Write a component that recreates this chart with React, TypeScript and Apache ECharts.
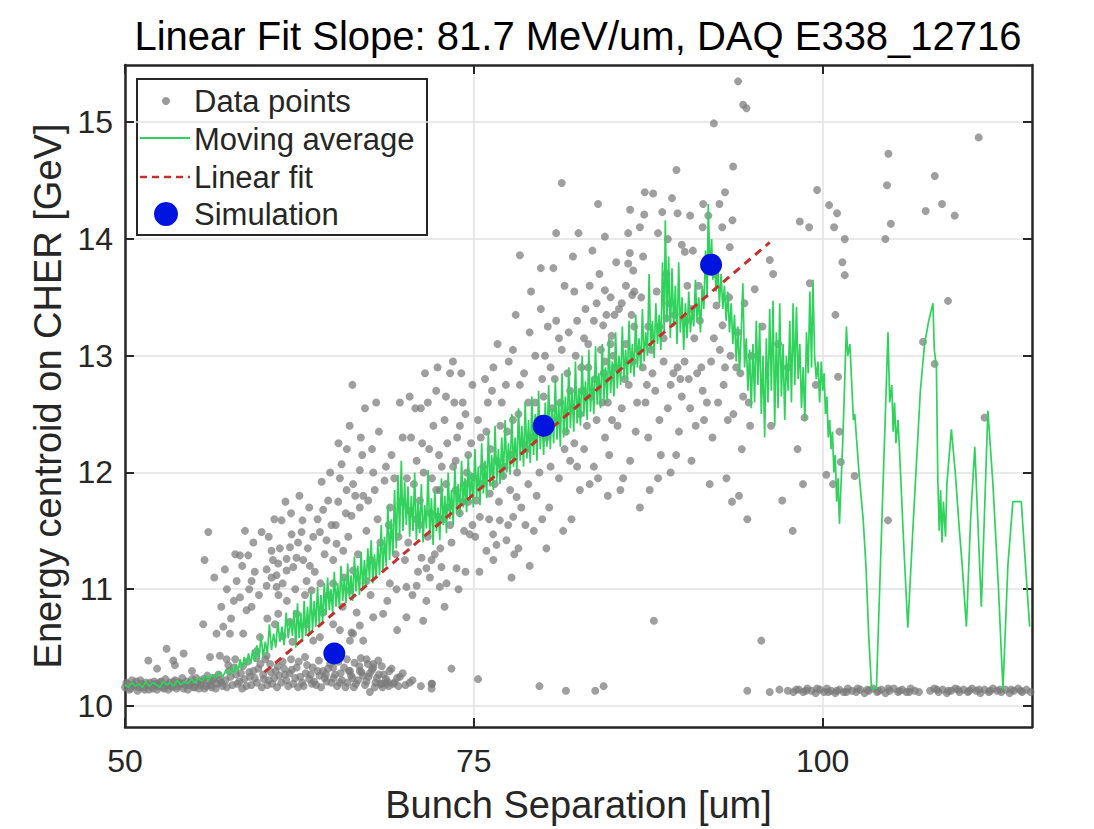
import React, { useEffect, useRef } from "react";
import * as echarts from "echarts";

const TITLE = "Linear Fit Slope: 81.7 MeV/um, DAQ E338_12716";
const X_NAME = "Bunch Separation [um]";
const Y_NAME = "Energy centroid on CHER [GeV]";
const X_TICKS = [50, 75, 100];
const Y_TICKS = [10, 11, 12, 13, 14, 15];
const LEGEND_LABELS = ["Data points", "Moving average", "Linear fit", "Simulation"];

// Gray data points
const floorLeft = [
  [50.0,10.16],[50.2,10.19],[50.4,10.15],[50.6,10.18],[50.8,10.21],[51.0,10.16],[51.2,10.19],[51.4,10.14],[51.6,10.18],[51.8,10.2],[52.0,10.15],[52.2,10.19],[52.4,10.17],[52.6,10.21],[52.8,10.15],[53.0,10.18],[53.2,10.2],[53.4,10.16],[53.6,10.22],[53.8,10.17],[54.0,10.19],[54.2,10.15],[54.4,10.21],[54.6,10.18],[54.8,10.23],[55.0,10.16],[55.2,10.2],[55.4,10.18],[55.6,10.23],[55.8,10.17],[56.0,10.21],[56.2,10.16],[56.4,10.24],[56.6,10.19],[56.8,10.22],[57.0,10.17],
  [50.1,10.2],[50.3,10.14],[50.5,10.22],[50.7,10.17],[50.9,10.13],[51.1,10.22],[51.3,10.16],[51.5,10.2],[51.7,10.14],[51.9,10.17],[52.1,10.21],[52.3,10.14],[52.5,10.2],[52.7,10.16],[52.9,10.23],[53.1,10.14],[53.3,10.17],[53.5,10.21],[53.7,10.15],[53.9,10.2],[54.1,10.24],[54.3,10.18],[54.5,10.14],[54.7,10.2],[54.9,10.16],[55.1,10.24],[55.3,10.15],[55.5,10.21],[55.7,10.15],[55.9,10.26],[56.1,10.18],[56.3,10.22],[56.5,10.15],[56.7,10.27],[56.9,10.2],
  [57.2,10.22],[57.45,10.3],[57.7,10.18],[57.95,10.27],[58.2,10.21],[58.45,10.34],[58.7,10.17],[58.95,10.25],[59.2,10.3],[59.45,10.2],[59.7,10.36],[59.95,10.23],[60.2,10.18],[60.45,10.29],[60.7,10.24],[60.95,10.34],[61.2,10.2],[61.45,10.27],[61.7,10.17],[61.95,10.31],[62.2,10.24],[62.45,10.38],[62.7,10.2],[62.95,10.28],[63.2,10.23],[63.45,10.33],[63.7,10.18],[63.95,10.26],[64.2,10.3],[64.45,10.21],[64.7,10.36],[64.95,10.24],[65.2,10.17],[65.45,10.28],[65.7,10.33],[65.95,10.2],[66.2,10.26],[66.45,10.37],[66.7,10.22],[66.95,10.29],[67.2,10.18],[67.45,10.25],[67.7,10.31],[67.95,10.2],[68.2,10.27],[68.45,10.16],[68.7,10.23],[68.95,10.3],[69.3,10.2],[69.7,10.25],[70.1,10.18],[70.6,10.22],[71.2,10.17],
  [57.3,10.16],[57.55,10.25],[57.8,10.33],[58.05,10.19],[58.3,10.28],[58.55,10.23],[58.8,10.38],[59.05,10.18],[59.3,10.24],[59.55,10.32],[59.8,10.16],[60.05,10.4],[60.3,10.22],[60.55,10.19],[60.8,10.3],[61.05,10.26],[61.3,10.38],[61.55,10.22],[61.8,10.28],[62.05,10.19],[62.3,10.33],[62.55,10.25],[62.8,10.17],[63.05,10.35],[63.3,10.27],[63.55,10.21],[63.8,10.3],[64.05,10.16],[64.3,10.24],[64.55,10.32],[64.8,10.2],[65.05,10.27],[65.3,10.38],[65.55,10.22],[65.8,10.16],[66.05,10.3],[66.3,10.24],[66.55,10.19],[66.8,10.34],[67.05,10.26],[67.3,10.21],[67.55,10.28],[67.8,10.36],[68.05,10.24],[68.3,10.19],[68.55,10.27],[68.8,10.21],[69.1,10.32],[69.5,10.24],[69.9,10.28],[70.4,10.2],
  [57.4,10.35],[57.9,10.4],[58.4,10.15],[58.9,10.29],[59.4,10.41],[59.9,10.27],[60.4,10.36],[60.9,10.16],[61.4,10.32],[61.9,10.4],[62.4,10.16],[62.9,10.42],[63.4,10.19],[63.9,10.39],[64.4,10.27],[64.9,10.42],[65.4,10.2],[65.9,10.4],[66.4,10.16],[66.9,10.41],[67.4,10.36],[67.9,10.16],[68.4,10.34],[68.9,10.17],[69.6,10.17]
];

const cloudLow = [
  [51.67,10.39],[52.98,10.49],[53.46,10.39],[53.58,10.35],[52.3,10.32],[54.2,10.45],[54.8,10.3],[55.61,10.7],[55.97,11.49],[55.7,11.25],
  [56.09,10.42],[56.8,10.43],[57.28,10.4],[57.04,10.68],[57.52,10.62],[56.56,10.62],[58.47,10.62],[59.67,10.59],[59.43,10.47],[60.15,10.43],[58.24,10.93],[58.71,10.82],[59.07,10.85],[57.16,11.17],[58.0,11.07],[59.07,11.07],[58.24,11.29],[58.83,11.29],[59.79,11.49],[58.4,11.2],[59.3,11.15],[59.6,10.95],[58.9,11.0],[57.8,10.9],[56.9,10.85],[57.6,10.75],
  [60.5,11.33],[61.1,11.35],[61.82,11.36],[60.6,11.25],[60.98,11.22],[61.58,11.26],[62.29,11.27],[62.77,11.25],[63.25,11.2],[60.15,11.17],[60.86,11.12],[61.58,11.16],[62.06,11.19],[60.5,11.1],[60.15,11.03],[60.86,11.02],[63.01,11.07],[63.37,10.99],[61.22,11.59],[62.72,11.59],[61.94,11.47],[62.65,11.49],[63.49,11.45],[63.97,11.49],[64.44,11.42],[64.09,11.92],[64.56,11.76],[64.2,11.68],[61.82,10.72],[62.29,10.79],[60.98,10.79],[60.74,10.7],[63.49,10.56],[63.97,10.59],[64.92,10.7],[62.5,11.8],[63.2,11.7],[61.5,11.75],
  [65.52,12.07],[65.88,11.85],[67.07,11.8],[67.43,11.76],[66.83,11.7],[65.28,11.75],[65.83,11.65],[66.23,11.63],[65.16,11.39],[65.64,11.33],[64.92,11.25],[66.35,11.16],[67.31,11.07],[64.92,11.05],[66.12,10.99],[68.98,11.05],[69.46,11.0],[66.83,12.02],[67.79,12.0],[66.35,11.9],[67.79,10.76],[68.5,10.79],[66.83,10.69],[66.35,10.62],[66.12,10.56],[67.07,10.56],[65.4,10.65],[66.23,10.63],[67.31,10.4],[68.15,10.39],[67.79,10.33],[66.83,10.3],[66.12,10.3],[64.92,10.33],[68.39,10.19],[68.74,10.19],[69.22,10.19],[67.55,10.12],
  [66.1,12.4],[66.3,12.75],[67.7,12.2],[68.6,11.93],[64.7,12.0],[69.7,12.6],[68.2,12.35],[69.1,12.15],[65.3,12.25],[67.2,12.55],[68.9,11.55],[69.4,11.3],[68.1,11.6],[69.8,11.75],
  [60.3,11.45],[60.7,11.6],[61.0,10.95],[61.3,11.05],[61.6,10.9],[61.9,11.65],[62.2,11.0],[62.4,11.4],[62.9,10.95],[63.1,11.35],[63.6,11.15],[63.8,11.6],[64.0,11.05],[64.3,11.3],[64.6,10.95],[64.8,11.55],[60.2,10.75],[61.3,10.6],[62.0,10.55],[63.0,10.7],[64.2,10.8],[59.2,11.4],[58.6,11.5],[57.9,11.3],[57.3,11.0],[56.4,11.1],
  [65.1,11.55],[65.4,11.95],[65.7,11.1],[66.0,11.45],[66.5,11.8],[66.7,11.3],[67.0,12.15],[67.3,11.5],[67.6,11.25],[67.9,11.85],[68.3,11.4],[68.7,12.05],[69.0,11.7],[69.3,11.95],[69.6,11.45],[69.9,12.3],[65.6,10.85],[66.6,10.8],[67.6,10.95],[68.8,10.9],[69.5,10.65],[68.0,12.6],[66.9,12.3],[65.9,12.2]
];

const cloudMid = [
  [70.17,11.02],[70.9,11.03],[71.0,11.15],[71.6,11.18],[71.85,11.1],[72.56,11.02],[73.04,11.05],[72.68,11.19],[70.06,11.25],[71.25,11.27],[71.97,11.25],[73.76,11.18],[74.71,11.47],[74.47,11.9],[74.95,11.96],[73.52,12.05],[72.56,11.85],[73.16,11.7],[72.44,11.62],[73.99,11.65],[70.41,11.67],[71.13,11.76],[70.17,10.76],[71.37,10.73],[71.97,10.19],[71.97,10.15],[73.4,10.32],[72.0,10.19],[75.3,10.23],
  [70.5,12.3],[71.2,12.55],[71.8,12.2],[72.3,12.7],[72.9,12.45],[73.3,12.85],[73.8,12.3],[74.2,12.6],[74.6,12.15],[70.9,12.1],[72.1,12.4],[73.6,12.6],[74.9,12.75],[71.5,12.85],[72.7,12.05],
  [70.3,11.4],[70.7,11.9],[71.1,11.55],[71.4,12.0],[71.7,11.45],[72.0,11.95],[72.2,11.3],[72.5,12.15],[72.8,11.6],[73.1,12.25],[73.4,11.4],[73.7,11.85],[74.0,12.4],[74.3,11.5],[74.6,11.75],[74.8,12.25],[70.6,10.95],[71.6,10.9],[72.9,10.85],[73.9,11.0],[74.4,11.15],[70.8,12.55],[72.4,12.9],[73.5,12.95],[74.1,12.85],
  [70.2,11.95],[70.9,11.6],[71.3,12.25],[71.9,11.65],[72.3,11.85],[72.6,11.35],[73.0,11.9],[73.3,11.55],[73.7,12.1],[74.2,11.75],[74.5,12.0],[74.9,11.55],[70.4,12.65],[71.7,12.6],[73.0,12.65],[74.4,12.5],
  [75.9,11.33],[76.62,11.38],[77.34,11.42],[76.38,11.47],[76.86,11.59],[77.46,11.55],[77.82,11.62],[78.06,11.79],[76.14,11.82],[76.5,11.9],[77.1,11.97],[75.43,11.62],[75.19,11.76],[75.67,12.05],[77.7,12.15],
  [75.5,12.3],[76.0,12.6],[76.4,12.9],[76.9,12.4],[77.3,12.75],[77.8,13.05],[78.2,12.5],[78.6,12.85],[79.0,13.2],[79.4,12.6],[79.8,13.4],[78.9,11.9],[79.3,11.5],[79.7,12.0],[78.4,11.7],[76.2,12.2],[77.5,12.95],[78.0,13.35],[79.1,13.55],[75.8,12.8],[76.7,13.1],[78.8,12.2],[79.5,11.8],[77.9,11.3],[79.9,11.6],[78.3,13.86],[79.8,13.75],[79.7,10.17],
  [75.1,11.45],[75.3,12.45],[75.6,11.9],[75.9,12.35],[76.1,11.6],[76.3,12.7],[76.6,12.1],[76.8,11.75],[77.0,12.6],[77.2,12.05],[77.4,12.35],[77.6,11.85],[77.8,12.45],[78.1,12.0],[78.3,12.75],[78.5,12.25],[78.7,11.55],[78.9,12.6],[79.2,12.3],[79.4,13.0],[79.6,12.45],[79.9,12.8],[75.4,11.15],[76.4,11.25],[77.7,11.1],[78.2,11.35],[79.0,11.2],
  [80.2,12.3],[80.5,12.9],[80.9,13.3],[81.2,12.6],[81.5,13.6],[81.9,12.1],[82.3,13.0],[82.6,12.5],[83.0,13.4],[83.3,11.9],[83.7,12.8],[84.0,13.7],[84.4,12.3],[84.8,13.1],[80.4,11.7],[81.1,11.95],[82.0,11.6],[82.9,12.2],[83.5,13.9],[84.2,12.6],[84.6,11.8],[80.7,13.75],[81.3,14.48],[82.5,14.05],[83.9,14.3],[80.1,13.0],[81.8,13.2],[82.8,12.7],[83.2,13.1],[84.9,12.45],[80.6,12.55],[81.6,12.35],[82.2,13.55],[83.6,12.05],[84.5,13.35],[81.6,10.13],[83.7,10.13],[84.3,10.17],
  [80.0,12.65],[80.3,13.25],[80.5,12.05],[80.8,12.8],[81.0,12.45],[81.3,13.05],[81.5,12.2],[81.7,12.85],[82.0,12.55],[82.2,12.25],[82.4,13.3],[82.7,12.9],[82.9,13.15],[83.1,12.4],[83.4,12.65],[83.6,13.3],[83.8,12.45],[84.1,13.05],[84.3,12.85],[84.6,12.6],[84.8,13.5],[80.2,11.35],[81.4,11.5],[82.6,11.85],[83.9,11.95],[84.7,12.15],[82.1,13.85],[83.3,13.6],[80.9,14.05],
  [80.4,12.45],[81.1,13.15],[81.9,12.7],[82.4,12.05],[83.2,12.9],[83.8,13.45],[84.4,12.95]
];

const cloudHigh = [
  [86.06,14.05],[84.39,14.02],[86.18,13.88],[87.13,13.85],[86.06,13.79],[86.42,13.73],[84.39,13.56],[86.35,13.52],[85.08,13.35],[86.49,13.25],[84.27,13.26],[84.87,13.17],[87.25,14.4],[87.85,14.39],[87.21,14.21],[88.5,14.23],[89.6,14.22],[89.52,14.59],[88.8,13.32],[90.12,13.89],
  [85.3,12.4],[85.8,12.8],[86.2,12.1],[86.7,12.6],[87.1,12.9],[87.5,12.3],[88.0,12.7],[88.4,12.15],[88.9,12.55],[89.3,12.85],[89.7,12.35],[85.5,11.85],[86.9,11.7],[88.2,11.95],[89.1,12.0],[87.9,10.73],[85.9,13.1],[87.7,13.05],[88.6,12.95],[89.9,12.65],[86.4,12.95],
  [85.1,12.9],[85.4,13.4],[85.6,12.55],[85.9,13.6],[86.1,12.75],[86.3,13.35],[86.6,12.35],[86.8,13.05],[87.0,13.5],[87.3,12.6],[87.5,13.25],[87.8,12.85],[88.1,13.55],[88.3,12.45],[88.6,13.15],[88.8,13.7],[89.1,12.75],[89.4,13.35],[89.6,12.9],[89.9,13.95],[85.2,13.8],[86.9,14.1],[88.2,14.05],[89.2,14.35],[85.7,11.95],[87.6,11.85],[89.5,12.15],
  [85.0,13.0],[85.6,13.45],[86.5,13.55],[87.4,12.75],[88.3,13.25],[89.0,13.45],[89.8,12.8],[86.2,14.25],[88.9,14.0],
  [93.94,15.35],[94.3,15.15],[94.54,15.12],[92.2,14.99],[93.58,14.62],[91.43,14.3],[93.53,14.16],[93.34,13.93],[95.13,13.57],[92.39,13.43],[92.82,13.26],[95.68,13.25],[92.63,13.05],
  [90.4,12.8],[90.9,12.4],[91.3,12.9],[91.7,12.6],[92.1,12.3],[92.9,12.75],[93.2,12.45],[93.8,12.9],[94.2,12.2],[94.7,12.6],[90.6,12.1],[91.9,11.9],[93.5,11.75],[94.6,11.6],[95.6,10.56],[90.2,13.3],[91.1,13.6],[94.9,13.0],[90.8,13.15],
  [90.1,12.95],[90.3,13.6],[90.5,12.55],[90.7,13.9],[91.0,12.85],[91.2,13.3],[91.5,12.45],[91.7,13.75],[92.0,12.95],[92.3,13.7],[92.5,12.6],[92.8,14.1],[93.0,12.9],[93.3,13.5],[93.6,12.5],[93.9,13.2],[94.1,12.85],[94.4,13.45],[94.8,12.4],[91.4,14.1],[92.6,14.3],[90.5,14.2],[93.1,11.95],[94.0,11.8],
  [90.6,13.4],[91.4,12.7],[92.2,13.15],[93.4,13.0],[94.3,12.65],[91.8,14.2],[93.0,14.4],
  [96.21,13.82],[96.45,13.7],[98.36,14.15],[99.03,14.1],[99.6,14.42],[99.07,13.62],[98.7,12.47],[98.59,11.9],[97.1,11.76],[97.85,11.5],[96.3,12.4],[97.5,12.9],[98.2,12.2],[99.5,12.75],[96.8,13.1]
];

const rightSparse = [
  [100.46,14.29],[101.03,14.22],[100.82,14.1],[101.58,14.0],[101.41,13.8],[101.58,13.69],[100.91,13.35],[104.71,14.73],[104.61,14.46],[104.88,14.13],[104.49,14.0],[108.03,14.54],[107.38,14.24],[108.55,14.3],[109.46,14.2],[111.18,14.87],[108.98,13.47],[107.19,13.12],[101.1,12.82],[101.2,12.35],[101.3,12.09],[100.26,11.98],[100.74,11.9],[102.29,11.97],[104.68,11.59],[108.02,12.93],[111.6,12.47]
];

const floorRight = [
  [94.6,10.13],[96.2,10.12],[96.9,10.14],[97.5,10.13],
  [97.9,10.12],[98.3,10.14],[98.6,10.12],[98.9,10.15],[99.2,10.13],[99.5,10.11],[99.8,10.14],[100.1,10.12],[100.3,10.15],[100.6,10.13],[100.9,10.11],[101.2,10.14],[101.5,10.12],[101.8,10.15],[102.1,10.13],[102.4,10.12],[102.7,10.14],[103.0,10.11],[103.3,10.13],[103.6,10.15],[103.9,10.12],[104.2,10.14],[104.5,10.11],[104.8,10.13],[105.1,10.15],[105.4,10.12],[105.7,10.14],[106.0,10.12],[106.3,10.15],[106.6,10.13],[106.9,10.12],[107.7,10.13],[108.0,10.15],[108.3,10.12],[108.6,10.14],[108.9,10.11],[109.2,10.13],[109.5,10.15],[109.8,10.12],[110.1,10.14],[110.4,10.12],[110.7,10.15],[111.0,10.13],[111.3,10.11],[111.6,10.14],[111.9,10.12],[112.2,10.15],[112.5,10.13],[112.8,10.12],[113.1,10.14],[113.4,10.11],[113.7,10.13],[114.0,10.15],[114.3,10.12],[114.6,10.14],[114.9,10.12],
  [98.1,10.14],[98.8,10.13],[99.6,10.15],[100.4,10.12],[101.0,10.13],[101.7,10.12],[102.5,10.15],[103.2,10.14],[104.0,10.13],[104.7,10.15],[105.5,10.13],[106.2,10.12],[108.2,10.14],[109.0,10.13],[109.7,10.14],[110.5,10.13],[111.2,10.14],[112.0,10.13],[112.7,10.14],[113.5,10.14],[114.2,10.13]
];

// Moving average (green)
const movAvgA = [
  [50.0,10.18],[50.25,10.16],[50.5,10.2],[50.75,10.17],[51.0,10.19],[51.25,10.16],[51.5,10.21],[51.75,10.17],[52.0,10.2],[52.25,10.18],[52.5,10.16],[52.75,10.21],[53.0,10.18],[53.25,10.2],[53.5,10.17],[53.75,10.22],[54.0,10.18],[54.25,10.21],[54.5,10.19],[54.75,10.23],[55.0,10.2],[55.25,10.24],[55.5,10.21],[55.75,10.26],[56.0,10.22],[56.25,10.27],[56.5,10.24],[56.75,10.29],[57.0,10.25],[57.25,10.31],[57.5,10.27],[57.65,10.33],[57.8,10.28],[57.95,10.36],[58.1,10.3],[58.25,10.4],[58.4,10.32],[58.55,10.42],[58.7,10.35],[58.85,10.45],[59.0,10.36],[59.15,10.48],[59.3,10.38],[59.45,10.52],[59.6,10.4],[59.75,10.6],[59.9,10.42],[60.05,10.55],[60.2,10.45],[60.35,10.7],[60.5,10.48],[60.65,10.62],[60.8,10.5],[60.95,10.72],[61.1,10.55],[61.25,10.68],[61.4,10.52],[61.55,10.8],[61.7,10.58],[61.85,10.75],[62.0,10.6]
];
const movAvgB = [
  [62.12,10.82],[62.24,10.5],[62.36,10.88],[62.48,10.58],[62.6,10.8],[62.72,10.55],[62.84,10.9],[62.96,10.6],[63.08,10.85],[63.2,10.62],[63.32,10.98],[63.44,10.65],[63.56,10.9],[63.68,10.68],[63.8,11.02],[63.92,10.7],[64.04,10.95],[64.16,10.72],[64.28,11.05],[64.4,10.78],[64.52,11.1],[64.64,10.82],[64.76,11.0],[64.88,10.8],[65.0,11.15],[65.12,10.85],[65.24,11.05],[65.36,10.84],[65.48,11.2],[65.6,10.9],[65.72,11.1],[65.84,10.88],[65.96,11.22],[66.08,10.92],[66.2,11.12],[66.32,10.9],[66.44,11.28],[66.56,10.98],[66.68,11.2],[66.8,10.95],[66.92,11.32],[67.04,11.0],[67.16,11.25],[67.28,11.02],[67.4,11.35],[67.52,11.08],[67.64,11.42],[67.76,11.05],[67.88,11.3],[68.0,11.1],[68.12,11.38],[68.24,11.12],[68.36,11.55],[68.48,11.15],[68.6,11.45],[68.72,11.2],[68.84,11.72],[68.96,11.25],[69.08,11.6],[69.2,11.3],[69.32,11.85],[69.44,11.35],[69.56,11.98],[69.68,11.45],[69.8,12.1],[69.92,11.5],[70.04,11.92],
  [70.16,11.55],[70.28,11.88],[70.4,11.45],[70.52,11.8],[70.64,11.5],[70.76,12.0],[70.88,11.42],[71.0,11.75],[71.12,11.48],[71.24,11.9],[71.36,11.4],[71.48,11.72],[71.6,11.52],[71.72,12.02],[71.84,11.45],[71.96,11.78],[72.08,11.38],[72.2,11.85],[72.32,11.5],[72.44,11.7],[72.56,11.42],[72.68,11.95],[72.8,11.55],[72.92,11.8],[73.04,11.48],[73.16,12.0],[73.28,11.6],[73.4,11.85],[73.52,11.55],[73.64,12.05],[73.76,11.65],[73.88,11.9],[74.0,11.62],[74.12,12.1],[74.24,11.7],[74.36,11.95],[74.48,11.66],[74.6,12.15],[74.72,11.75],[74.84,12.0],[74.96,11.7],[75.08,12.2],[75.2,11.78],[75.32,12.05],[75.44,11.72],[75.56,12.25],[75.68,11.82],[75.8,12.1],[75.92,11.78],[76.04,12.35],[76.16,11.88],[76.28,12.15],[76.4,11.85],[76.52,12.4],[76.64,11.92],[76.76,12.2],[76.88,11.9],[77.0,12.3],[77.12,11.95],[77.24,12.45],[77.36,12.0],[77.48,12.25],[77.6,11.98],[77.72,12.5],[77.84,12.05],[77.96,12.3]
];
const movAvgC = [
  [78.08,12.02],[78.2,12.55],[78.32,12.1],[78.44,12.4],[78.56,12.05],[78.68,12.6],[78.8,12.12],[78.92,12.45],[79.04,12.08],[79.16,12.65],[79.28,12.15],[79.4,12.5],[79.52,12.1],[79.64,12.7],[79.76,12.2],[79.88,12.48],[80.0,12.15],[80.12,12.6],[80.24,12.22],[80.36,12.75],[80.48,12.2],[80.6,12.55],[80.72,12.25],[80.84,12.8],[80.96,12.28],[81.08,12.6],[81.2,12.22],[81.32,12.85],[81.44,12.3],[81.56,12.65],[81.68,12.32],[81.8,12.9],[81.92,12.38],[82.04,12.7],[82.16,12.35],[82.28,12.95],[82.4,12.42],[82.52,12.72],[82.64,12.4],[82.76,13.0],[82.88,12.48],[83.0,12.78],[83.12,12.45],[83.24,13.05],[83.36,12.52],[83.48,12.82],[83.6,12.5],[83.72,13.08],[83.84,12.58],[83.96,12.85],[84.08,12.55],[84.2,13.1],[84.32,12.62],[84.44,12.9],[84.56,12.6],[84.68,13.15],[84.8,12.68],[84.92,12.95],[85.04,12.65],[85.16,13.2],[85.28,12.72],[85.4,13.0],[85.52,12.75],[85.64,13.25],[85.76,12.8],[85.88,13.05],
  [86.0,12.78],[86.12,13.3],[86.24,12.85],[86.36,13.1],[86.48,12.82],[86.6,13.35],[86.72,12.9],[86.84,13.15],[86.96,12.88],[87.08,13.4],[87.2,12.95],[87.32,13.2],[87.44,13.0],[87.56,13.7],[87.68,13.05],[87.8,13.3],[87.92,12.98],[88.04,13.45],[88.16,13.1],[88.28,13.35],[88.4,13.05],[88.52,13.8],[88.64,13.2],[88.72,14.16],[88.84,13.3],[88.96,13.85],[89.08,13.15],[89.2,13.75],[89.32,13.25],[89.44,13.6],[89.56,13.1],[89.68,13.8],[89.8,13.2],[89.92,13.5],[90.04,13.05],[90.16,13.45],[90.28,13.15],[90.4,13.55],[90.52,13.2],[90.64,13.4],[90.76,13.25],[90.88,13.65],[91.0,13.3],[91.12,13.5],[91.24,13.2],[91.36,13.6],[91.48,13.4],[91.6,13.9],[91.72,13.5],[91.8,14.3],[91.92,13.7],[92.04,14.0]
];
const movAvgD = [
  [92.12,13.65],[92.24,13.85],[92.36,13.55],[92.48,13.75],[92.6,13.45],[92.72,13.7],[92.84,13.4],[92.96,13.6],[93.08,13.3],[93.2,13.55],[93.32,13.2],[93.44,13.45],[93.56,13.1],[93.68,13.35],[93.8,12.95],[93.92,13.25],[94.04,12.85],[94.16,13.2],[94.28,13.62],[94.4,12.9],[94.52,13.15],[94.64,12.7],[94.76,13.05],[94.88,12.55],[95.0,13.1],[95.12,12.6],[95.24,13.3],[95.36,12.75],[95.48,13.28],[95.6,12.5],[95.72,13.0],[95.84,12.3],[95.96,13.15],[96.08,12.6],[96.2,13.4],[96.32,12.7],[96.44,13.47],[96.56,12.4],[96.68,13.2],[96.8,12.55],[96.92,13.45],[97.04,12.65],[97.16,13.1],[97.28,12.45],[97.4,13.0],[97.52,12.7],[97.64,13.3],[97.76,12.6],[97.88,13.45],[98.0,12.75],[98.12,13.42],[98.24,12.8],[98.36,13.1],[98.48,12.55],[98.6,12.9],[98.72,12.45],[98.84,13.2],[98.96,12.85],[99.08,13.55],[99.2,12.9],[99.3,13.65],[99.42,13.0],[99.54,12.8],[99.66,12.95],[99.78,12.6],
  [99.9,12.95],[100.0,12.7],[100.1,12.85],[100.2,12.5],[100.3,12.65],[100.4,12.3],[100.5,12.45],[100.6,12.2],[100.7,12.35],[100.8,12.0],[100.9,12.15],[101.0,11.75],[101.1,11.95],[101.2,11.56],[101.45,12.3],[101.7,13.25],[101.8,13.0],[101.95,13.1],[102.2,12.45],[102.3,12.5],[102.6,12.0],[102.9,11.6],[103.1,11.2],[103.3,10.6],[103.5,10.15],[103.85,10.15],[104.3,11.8],[104.68,13.2],[104.8,12.6],[104.95,12.75],[105.05,12.35],[105.15,12.6],[105.25,12.25],[105.4,12.45],[105.5,12.2],[105.8,11.4],[106.1,10.67],[106.5,11.6],[107.0,12.7],[107.3,13.1],[107.6,13.3],[107.9,13.45],[108.0,13.05],[108.15,12.9],[108.25,11.95],[108.35,11.5],[108.45,11.85],[108.55,11.4],[108.65,11.75],[108.8,11.45],[108.9,11.9],[109.22,12.37],[109.5,12.0],[109.8,11.5],[110.0,11.2],[110.3,10.68],[110.6,11.6],[110.9,12.22],[111.37,10.85],[111.84,12.53],[112.2,11.9],[112.6,11.0],[112.92,10.14],[113.27,11.2],[113.63,11.75],[114.23,11.75],[114.83,10.68]
];

const linearFit = [[60.0, 10.29], [96.2, 13.97]];
const simulation = [[65, 10.45], [80, 12.4], [92, 13.78]];

const FONT = "'Liberation Sans', Arial, Helvetica, sans-serif";
const AXIS_COLOR = "#262626";
const GRAY = "#7a7a7a";
const GREEN = "#2fd35c";
const RED = "#c4302b";
const BLUE = "#0014e0";

export default function App() {
  const ref = useRef<HTMLDivElement>(null);
  useEffect(() => {
    if (!ref.current) return;
    const chart = echarts.init(ref.current, null, { renderer: "svg" });
    const scatterData = [
      ...floorLeft, ...cloudLow, ...cloudMid, ...cloudHigh, ...rightSparse, ...floorRight,
    ];
    const movingAverage = [...movAvgA, ...movAvgB, ...movAvgC, ...movAvgD];
    const axisLine = { show: true, onZero: false, lineStyle: { color: AXIS_COLOR, width: 2.5 } };
    const tickStyle = { color: AXIS_COLOR, width: 2 };
    const xMin = 50, xMax = 115, yMin = 9.82, yMax = 15.49;
    const textStyle = { fontFamily: FONT, fontSize: 31, color: AXIS_COLOR };
    const legendRows = [101, 139, 177, 214];
    chart.setOption({
      animation: false,
      backgroundColor: "#ffffff",
      title: {
        text: TITLE,
        left: 578,
        top: 16,
        textAlign: "center",
        padding: 0,
        textStyle: { fontFamily: FONT, fontSize: 40, fontWeight: "normal", color: "#000000" },
      },
      grid: { left: 125, top: 65, right: 62, bottom: 102 },
      xAxis: [
        {
          type: "value", position: "bottom", min: xMin, max: xMax,
          axisLine,
          axisTick: { show: true, inside: true, length: 9, lineStyle: tickStyle, customValues: X_TICKS },
          axisLabel: { show: true, customValues: X_TICKS, margin: 18, fontFamily: FONT, fontSize: 32, color: AXIS_COLOR },
          splitLine: { show: true, lineStyle: { color: "#e2e2e2", width: 1.5 } },
          name: X_NAME, nameLocation: "middle", nameGap: 59,
          nameTextStyle: { fontFamily: FONT, fontSize: 38, color: AXIS_COLOR },
        },
        {
          type: "value", position: "top", min: xMin, max: xMax,
          axisLine,
          axisTick: { show: true, inside: true, length: 9, lineStyle: tickStyle, customValues: X_TICKS },
          axisLabel: { show: false },
          splitLine: { show: false },
        },
      ],
      yAxis: [
        {
          type: "value", position: "left", min: yMin, max: yMax,
          axisLine,
          axisTick: { show: true, inside: true, length: 9, lineStyle: tickStyle, customValues: Y_TICKS },
          axisLabel: { show: true, customValues: Y_TICKS, margin: 12, fontFamily: FONT, fontSize: 32, color: AXIS_COLOR },
          splitLine: { show: true, lineStyle: { color: "#e2e2e2", width: 1.5 } },
          name: Y_NAME, nameLocation: "middle", nameGap: 57,
          nameTextStyle: { fontFamily: FONT, fontSize: 38, color: AXIS_COLOR },
        },
        {
          type: "value", position: "right", min: yMin, max: yMax,
          axisLine,
          axisTick: { show: true, inside: true, length: 9, lineStyle: tickStyle, customValues: Y_TICKS },
          axisLabel: { show: false },
          splitLine: { show: false },
        },
      ],
      series: [
        {
          name: LEGEND_LABELS[0], type: "scatter", xAxisIndex: 0, yAxisIndex: 0,
          data: scatterData, symbol: "circle", symbolSize: 8,
          itemStyle: { color: GRAY, opacity: 0.72 }, silent: true, z: 2,
        },
        {
          name: LEGEND_LABELS[1], type: "line", xAxisIndex: 0, yAxisIndex: 0,
          data: movingAverage, symbol: "none", showSymbol: false,
          lineStyle: { color: GREEN, width: 1.7 }, silent: true, z: 3,
        },
        {
          name: LEGEND_LABELS[2], type: "line", xAxisIndex: 0, yAxisIndex: 0,
          data: linearFit, symbol: "none", showSymbol: false,
          lineStyle: { color: RED, width: 3, type: [8, 6] }, silent: true, z: 4,
        },
        {
          name: LEGEND_LABELS[3], type: "scatter", xAxisIndex: 0, yAxisIndex: 0,
          data: simulation, symbol: "circle", symbolSize: 22,
          itemStyle: { color: BLUE, opacity: 1 }, silent: true, z: 5,
        },
      ],
      graphic: [
        {
          type: "group", z: 100,
          children: [
            { type: "rect", shape: { x: 137, y: 79, width: 290, height: 156 }, style: { fill: "#ffffff", stroke: AXIS_COLOR, lineWidth: 2 } },
            { type: "circle", shape: { cx: 166, cy: legendRows[0], r: 4 }, style: { fill: "#9a9a9a" } },
            { type: "line", shape: { x1: 140, y1: legendRows[1] - 1, x2: 190, y2: legendRows[1] - 1 }, style: { stroke: GREEN, lineWidth: 2 } },
            { type: "line", shape: { x1: 140, y1: legendRows[2], x2: 190, y2: legendRows[2] }, style: { stroke: RED, lineWidth: 2.5, lineDash: [7, 5] } },
            { type: "circle", shape: { cx: 166, cy: legendRows[3], r: 12 }, style: { fill: BLUE } },
            ...LEGEND_LABELS.map((t, i) => ({
              type: "text", x: 194, y: legendRows[i],
              style: { text: t, ...textStyle, fill: AXIS_COLOR, textVerticalAlign: "middle", verticalAlign: "middle" },
            })),
          ],
        },
      ],
    });
    return () => chart.dispose();
  }, []);
  return (
    <div
      ref={ref}
      style={{ position: "fixed", left: 0, top: 0, width: 1094, height: 829, background: "#ffffff" }}
    />
  );
}
